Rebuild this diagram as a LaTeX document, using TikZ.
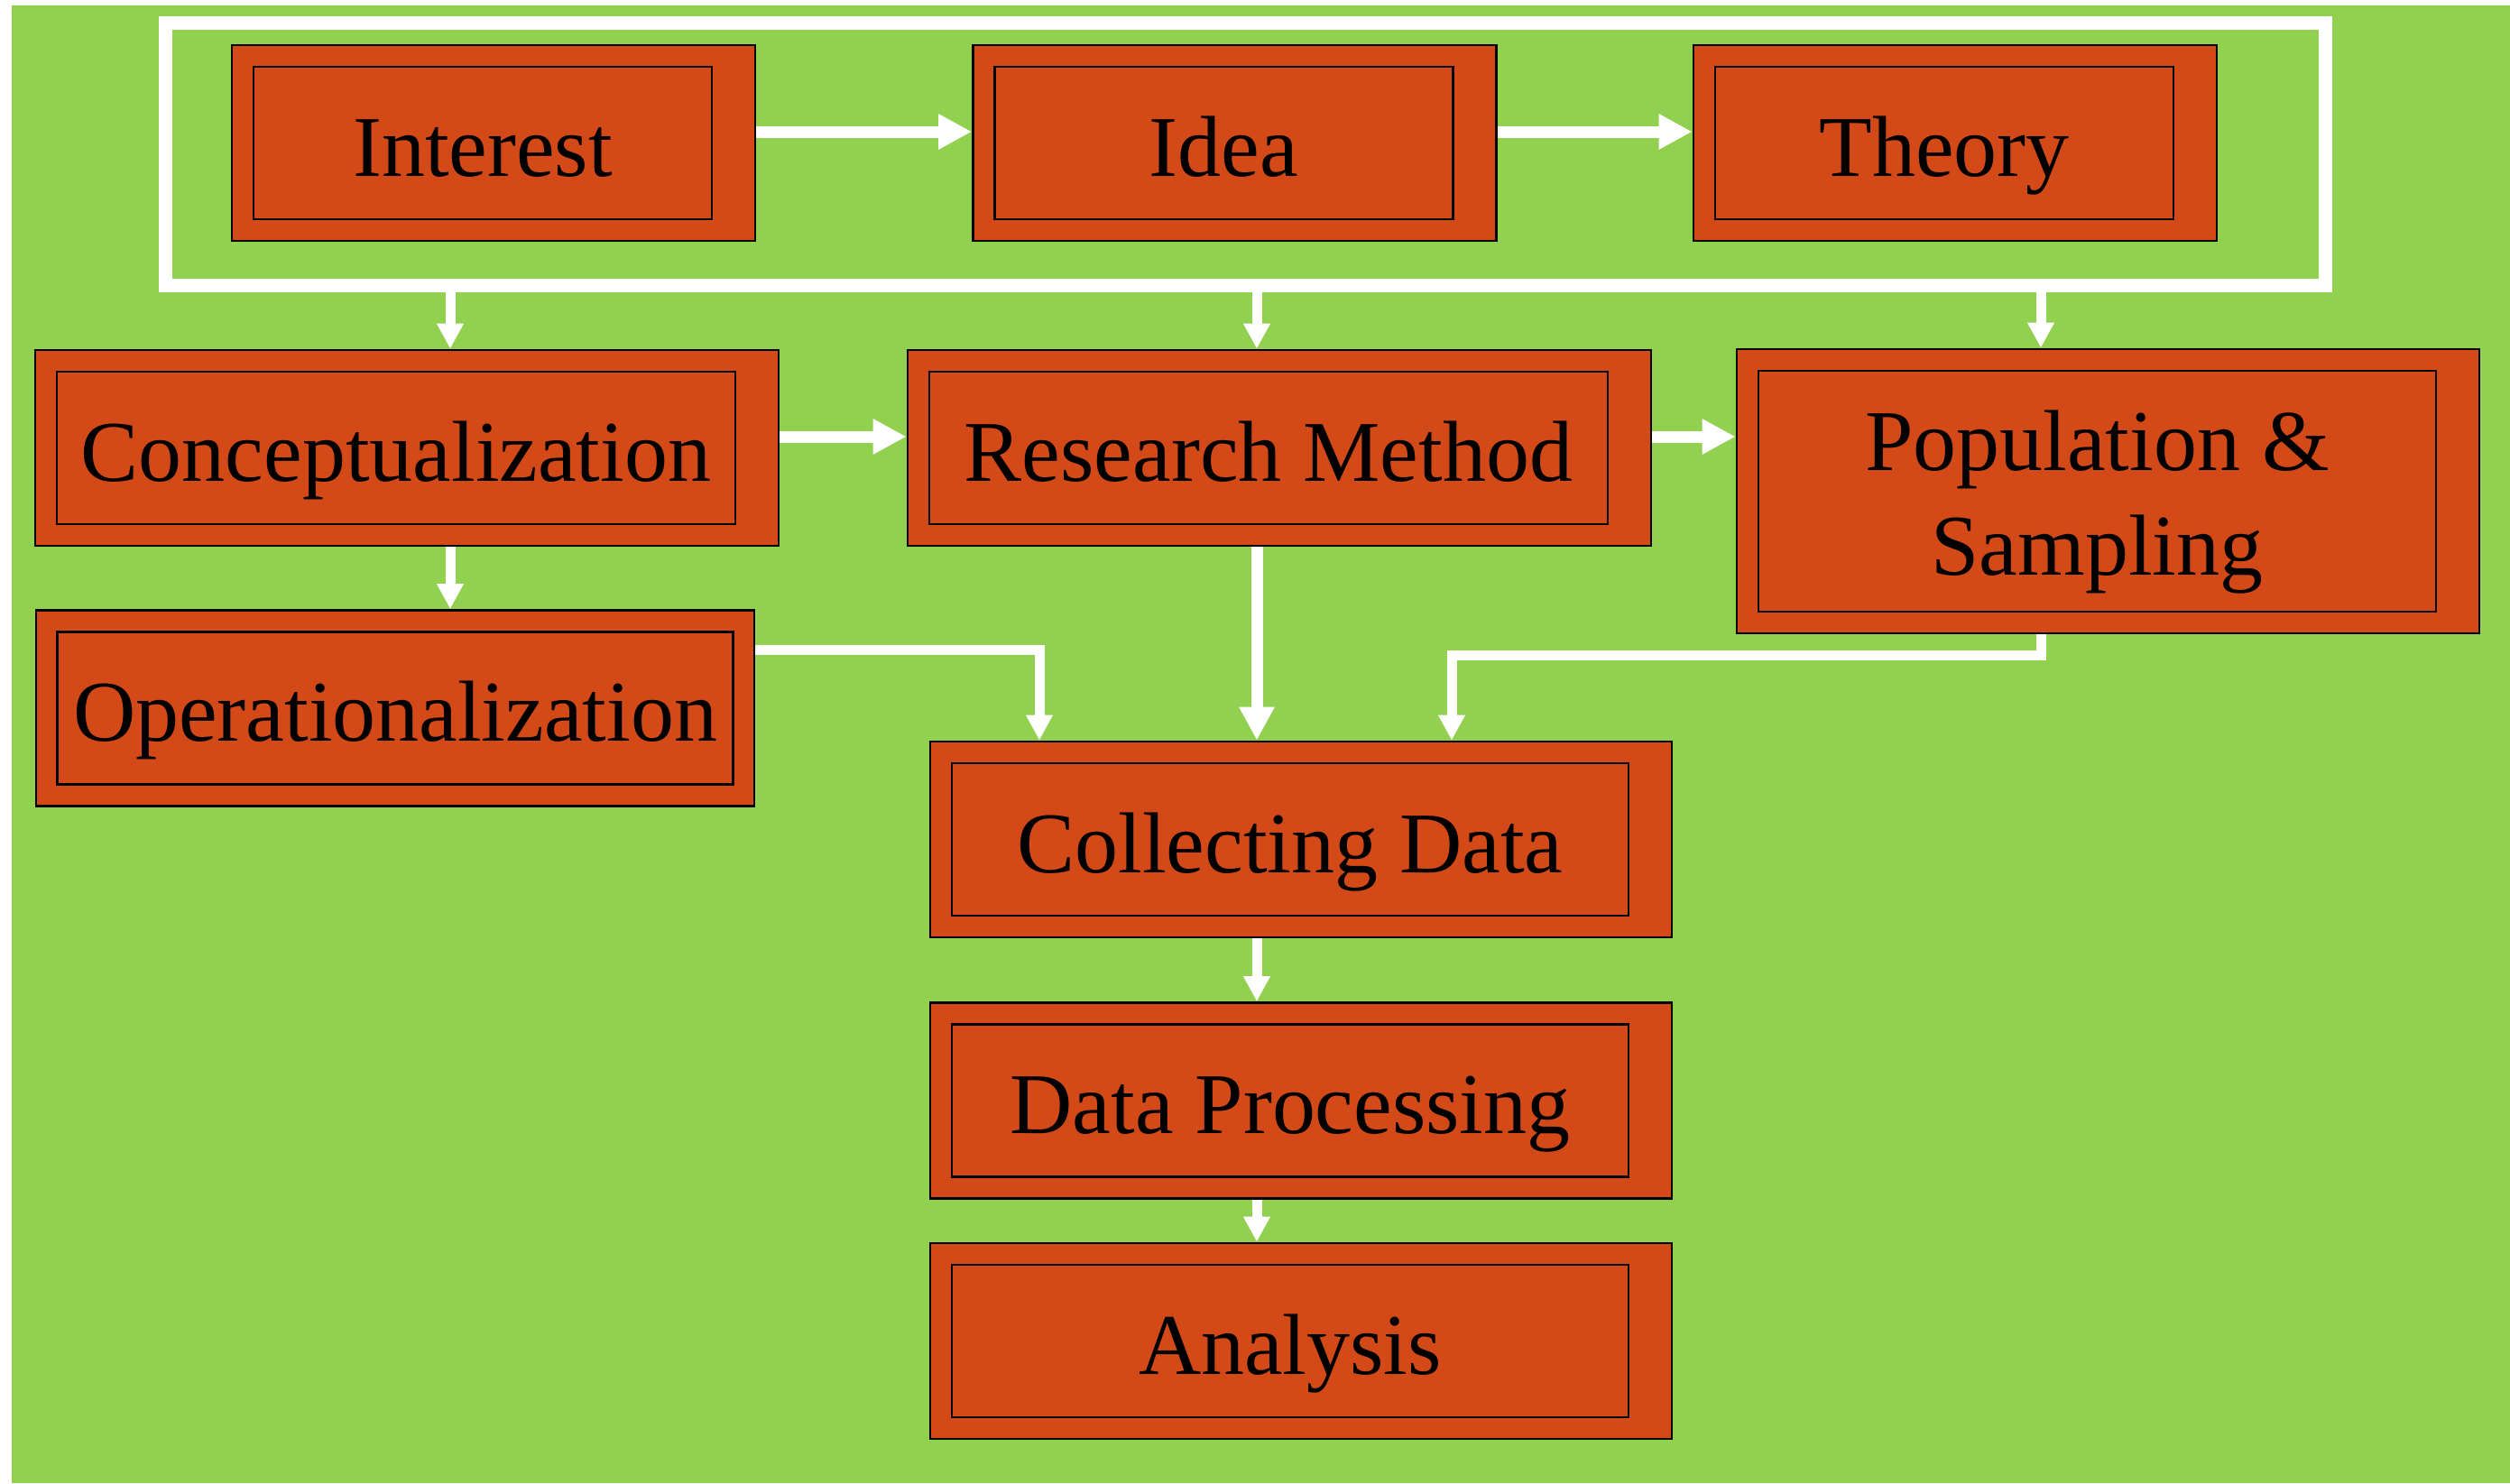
\documentclass[tikz,border=0pt]{standalone}
\usepackage{fontspec}
\setmainfont{Liberation Serif}
\usetikzlibrary{arrows.meta,calc}

\definecolor{leaf}{RGB}{146,208,80}
\definecolor{rust}{RGB}{212,73,24}

\tikzset{
  box/.style={draw=black, line width=0.8pt, fill=rust, inner sep=0pt, minimum height=2.17cm},
  word/.style={draw=black, line width=0.8pt, inner sep=0pt, minimum height=1.69cm, font=\fontsize{27.3}{33}\selectfont},
  oneline/.style={text height=0.73cm, text depth=0pt},
  topframe/.style={draw=white, line width=0.15cm, inner sep=0pt},
  flow/.style={draw=white, line width=0.13cm, -{Triangle[length=0.37cm,width=0.37cm]}},
  drop/.style={draw=white, line width=0.11cm, -{Triangle[length=0.28cm,width=0.28cm]}},
}

\begin{document}
\begin{tikzpicture}
\useasboundingbox (0,0) rectangle (27.82,-16.44);
\fill[white] (0,0) rectangle (27.82,-16.44);
\fill[leaf] (0.13,-0.06) rectangle (27.82,-16.44);

% white frame round the first row
\node[topframe, minimum width=23.94cm, minimum height=2.91cm] (group) at (13.80,-1.705) {};

% boxes with the same height
\foreach \n/\x/\y/\w/\t in {interest/5.47/-1.585/5.80/Interest,
                            idea/13.685/-1.585/5.80/Idea,
                            theory/21.67/-1.585/5.80/Theory,
                            concept/4.51/-4.965/8.24/Conceptualization,
                            method/14.18/-4.965/8.24/Research Method,
                            collect/14.42/-9.305/8.22/Collecting Data,
                            process/14.42/-12.20/8.22/Data Processing,
                            analysis/14.42/-14.865/8.22/Analysis} {
  \node[box, minimum width=\w cm] (\n) at (\x,\y) {};
  \node[word, oneline, minimum width={\w cm-0.72cm}] (\n-in) at ([xshift=-0.12cm]\n.center) {\t};
}

\node[box, minimum width=8.23cm, minimum height=3.15cm] (sample) at (23.365,-5.445) {};
\node[word, align=center, minimum width=7.51cm, minimum height=2.67cm] (sample-in) at ([xshift=-0.12cm]sample.center) {\rule{0pt}{0.90cm}Population \&\\Sampling};

\node[box, minimum width=7.96cm] (operate) at (4.38,-7.85) {};
\node[word, oneline, minimum width=7.49cm] (operate-in) at (operate.center) {Operationalization};

% rows and columns of the arrows
\coordinate (trow) at (0,-1.46);
\coordinate (mrow) at (0,-4.84);
\coordinate (lcol) at (4.99,0);
\coordinate (mcol) at (13.93,0);
\coordinate (rcol) at (22.62,0);
\coordinate (opdrop) at (11.52,0);
\coordinate (sdrop) at (16.09,0);

\draw[flow] (interest.east |- trow) -- (idea.west |- trow);
\draw[flow] (idea.east |- trow) -- (theory.west |- trow);
\draw[flow] (concept.east |- mrow) -- (method.west |- mrow);
\draw[flow] (method.east |- mrow) -- (sample.west |- mrow);

\draw[drop] (lcol |- group.south) -- (lcol |- concept.north);
\draw[drop] (mcol |- group.south) -- (mcol |- method.north);
\draw[drop] (rcol |- group.south) -- (rcol |- sample.north);
\draw[drop] (lcol |- concept.south) -- (lcol |- operate.north);

\draw[drop] ([yshift=0.65cm]operate.east) -| (opdrop |- collect.north);
\draw[flow] (mcol |- method.south) -- (mcol |- collect.north);
\draw[drop] (rcol |- sample.south) -- ++(0,-0.23) -| (sdrop |- collect.north);

\draw[drop] (mcol |- collect.south) -- (mcol |- process.north);
\draw[drop] (mcol |- process.south) -- (mcol |- analysis.north);
\end{tikzpicture}
\end{document}
